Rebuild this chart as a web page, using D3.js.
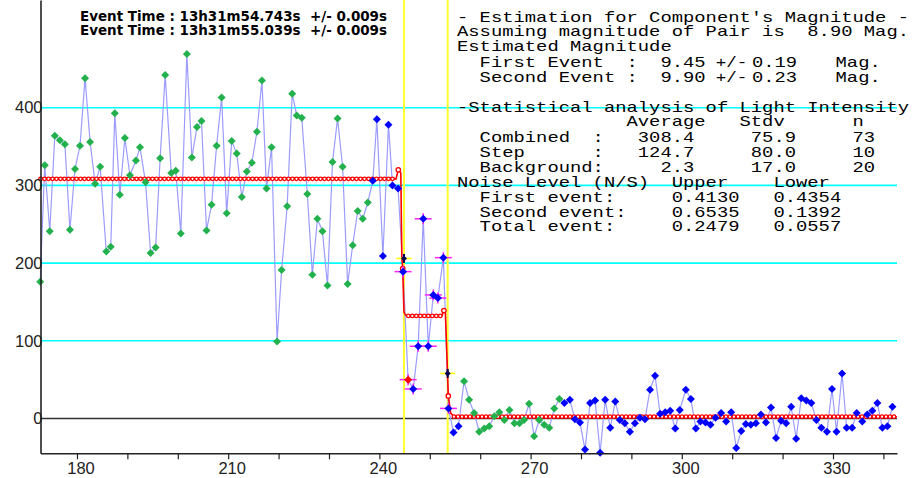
<!DOCTYPE html>
<html>
<head>
<meta charset="utf-8">
<script src="https://cdn.jsdelivr.net/npm/d3@7/dist/d3.min.js"></script>
<style>
  html, body { margin: 0; padding: 0; background: #fff; }
  svg { display: block; }
  text { white-space: pre; }
</style>
</head>
<body>
<svg id="chart" width="912" height="478"></svg>
<script>
// ---- Light curve samples: frame time (s) and measured light intensity ----
const frameTime = [
  172.7,173.6,174.6,175.6,176.6,177.6,178.6,179.6,180.6,181.6,
  182.6,183.6,184.6,185.8,186.7,187.5,188.5,189.5,190.5,191.7,
  192.5,193.6,194.6,195.6,196.5,197.5,198.7,199.6,200.6,201.8,
  202.8,203.8,204.7,205.7,206.7,207.7,208.7,209.7,210.7,211.7,
  212.7,213.7,214.7,215.7,216.7,217.6,218.6,219.7,220.6,221.7,
  222.7,223.6,224.6,225.7,226.7,227.7,228.7,229.7,230.7,231.7,
  232.7,233.7,234.7,235.7,236.7,237.7,238.7,239.5,240.7,241.8,
  242.6,243.7,
  244.7,245.7,246.7,247.7,248.7,249.7,250.7,251.6,252.7,253.7,
  254.7,255.7,
  256.8,257.8,258.8,259.8,260.8,261.8,262.8,263.8,264.8,265.8,
  266.8,267.8,268.7,269.7,270.7,271.7,272.7,273.7,274.7,275.7,
  276.7,277.8,278.8,279.8,280.8,281.8,282.8,283.8,284.8,285.8,
  286.8,287.7,288.7,289.7,290.7,291.7,292.7,293.7,294.7,295.7,
  296.7,297.7,298.7,299.6,300.8,301.8,302.8,303.7,304.7,305.7,
  306.7,307.8,308.8,309.8,310.8,311.8,312.7,313.7,314.7,315.7,
  316.7,317.7,318.7,319.7,320.7,321.7,322.7,323.7,324.7,325.7,
  326.7,327.7,328.8,329.8,330.7,331.8,332.7,333.8,334.7,335.8,
  336.8,337.8,338.8,339.8,340.8,341.8
];
const intensity = [
  176,326,241,364,358,353,243,321,351,438,
  356,302,324,215,221,393,288,361,313,332,
  349,304,213,220,335,442,316,319,238,469,
  336,375,383,242,275,351,413,264,357,341,
  285,318,329,369,435,296,349,99,191,273,
  418,390,387,289,185,257,241,171,330,386,
  324,173,223,267,257,278,306,385,209,378,
  300,296,
  189,50,38,93,257,93,159,155,207,13,
  -18,-10,
  48,24,7,-17,-13,-10,3,8,-2,11,
  -6,-6,-2,19,-23,-2,-8,-12,13,25,
  20,24,-1,-5,-40,20,23,-44,24,-12,
  22,-2,-6,-17,-6,1,-1,37,55,6,
  8,10,-13,11,37,25,-13,-4,-5,-8,
  1,7,-4,8,-38,-16,-7,-8,-6,5,
  -5,14,-25,-3,-6,15,-26,26,23,20,
  -2,-12,-17,38,-17,58,-12,-12,7,-4,
  5,10,20,-12,-10,15
];
// Sample classes in time order: G = used for level, B = not used, S = step sample, R = flagged step sample
const sampleKindRuns = [["G",66],["B",6],["S",1],["R",1],["S",8],["B",2],["G",20],["B",66]];

// ---- Fitted occultation model (knots) ----
const modelTime  = [172.76, 243.3, 243.75, 244.25, 244.45, 244.62, 244.88, 245.2, 245.74, 252.4, 252.8, 253.1, 253.67, 254.15, 254.8, 342.7];
const modelLevel = [308.4, 308.4, 320, 316, 208, 193, 137, 133, 132, 132, 139, 136, 29, 7, 2.3, 2.3];
const modelRingKnots = [2, 5, 10, 12];

// ---- Events ----
const eventTime  = [244.88, 253.55];
const eventLevel = [206, 58];
const eventClock = ["13h31m54.743s", "13h31m55.039s"];
const eventClockErr = "0.009s";

// ---- Axes ----
const xDomain = [172.76, 342.7];
const yDomain = [-44.8, 538.6];
const xMinorTicks = [180,190,200,210,220,230,240,250,260,270,280,290,300,310,320,330,340];
const xTickLabels = [180,210,240,270,300,330];
const yTickLabels = [0,100,200,300,400];
const yGrid = [100,200,300,400];

// ---- Magnitude estimation and statistics ----
const pairMagnitude = "8.90";
const eventNames = ["First Event", "Second Event"];
const eventMag = ["9.45", "9.90"];
const eventMagErr = ["0.19", "0.23"];
const statRows = ["Combined", "Step", "Background"];
const statAverage = [308.4, 124.7, 2.3];
const statStdv = [75.9, 80.0, 17.0];
const statN = [73, 10, 20];
const noiseRows = ["First event:", "Second event:", "Total event:"];
const noiseUpper = [0.4130, 0.6535, 0.2479];
const noiseLower = [0.4354, 0.1392, 0.0557];

// ---------------------------------------------------------------
const svg = d3.select("#chart");
const W = 912, H = 478;
const plot = { left: 40.5, right: 897, top: 0, bottom: 453.3 };

const x = d3.scaleLinear().domain(xDomain).range([plot.left, plot.right]);
const y = d3.scaleLinear().domain(yDomain).range([plot.bottom, plot.top]);

const sampleKind = sampleKindRuns.flatMap(([k, n]) => Array.from({ length: n }, () => k));
const samples = frameTime.map((t, i) => ({ t, v: intensity[i], kind: sampleKind[i] }));

svg.append("rect").attr("width", W).attr("height", H).attr("fill", "#fff");

// grid lines
svg.append("g").selectAll("line").data(yGrid).join("line")
  .attr("x1", plot.left).attr("x2", plot.right)
  .attr("y1", d => y(d)).attr("y2", d => y(d))
  .attr("stroke", "#00ffff").attr("stroke-width", 1.6);

// zero line
svg.append("line")
  .attr("x1", plot.left).attr("x2", plot.right)
  .attr("y1", y(0)).attr("y2", y(0))
  .attr("stroke", "#333").attr("stroke-width", 1.5);

// event time markers
svg.append("g").selectAll("line").data(eventTime).join("line")
  .attr("x1", d => x(d)).attr("x2", d => x(d))
  .attr("y1", plot.top).attr("y2", plot.bottom)
  .attr("stroke", "#ffff30").attr("stroke-width", 2);

// measured light curve
svg.append("path")
  .datum(samples)
  .attr("d", d3.line().x(d => x(d.t)).y(d => y(d.v)))
  .attr("fill", "none").attr("stroke", "#9c9cff").attr("stroke-width", 1.2);

// model curve
const modelPts = modelTime.map((t, i) => ({ t, v: modelLevel[i] }));
svg.append("path")
  .datum(modelPts)
  .attr("d", d3.line().x(d => x(d.t)).y(d => y(d.v)))
  .attr("fill", "none").attr("stroke", "#ff0000").attr("stroke-width", 1.6);

// chain of rings along the flat model levels
const flats = [];
for (let i = 0; i < modelPts.length - 1; i++) {
  if (modelPts[i].v === modelPts[i + 1].v) flats.push([modelPts[i], modelPts[i + 1]]);
}
const flatLine = d => `M${x(d[0].t)},${y(d[0].v)}H${x(d[1].t)}`;
const rings = svg.append("g");
rings.selectAll("path.outer").data(flats).join("path").attr("class", "outer")
  .attr("d", flatLine).attr("fill", "none")
  .attr("stroke", "#ff0000").attr("stroke-width", 4.8)
  .attr("stroke-linecap", "round").attr("stroke-dasharray", "0 4");
rings.selectAll("path.inner").data(flats).join("path").attr("class", "inner")
  .attr("d", flatLine).attr("fill", "none")
  .attr("stroke", "#fff").attr("stroke-width", 2.2)
  .attr("stroke-linecap", "round").attr("stroke-dasharray", "0 4");
svg.append("g").selectAll("circle").data(modelRingKnots.map(i => modelPts[i])).join("circle")
  .attr("cx", d => x(d.t)).attr("cy", d => y(d.v)).attr("r", 2.2)
  .attr("fill", "#fff").attr("stroke", "#ff0000").attr("stroke-width", 1.3);

// error crosses on step samples
const stepSamples = samples.filter(d => d.kind === "S" || d.kind === "R");
const cross = svg.append("g").attr("stroke", "#ff22ff").attr("stroke-width", 1.5);
cross.selectAll("line.h").data(stepSamples).join("line").attr("class", "h")
  .attr("x1", d => x(d.t) - 8.5).attr("x2", d => x(d.t) + 8.5)
  .attr("y1", d => y(d.v)).attr("y2", d => y(d.v));
cross.selectAll("line.v").data(stepSamples).join("line").attr("class", "v")
  .attr("x1", d => x(d.t)).attr("x2", d => x(d.t))
  .attr("y1", d => y(d.v) - 5.5).attr("y2", d => y(d.v) + 5.5);

// sample diamonds
const kindColor = { G: "#22b14c", B: "#0000ff", S: "#0000ff", R: "#ff0000" };
const diamond = (cx, cy, r) => `M${cx},${cy - r}L${cx + r},${cy}L${cx},${cy + r}L${cx - r},${cy}Z`;
svg.append("g").selectAll("path").data(samples).join("path")
  .attr("d", d => diamond(x(d.t), y(d.v), 4))
  .attr("fill", d => kindColor[d.kind]);

// event level markers
const ev = svg.append("g").selectAll("g").data(eventTime.map((t, i) => ({ t, v: eventLevel[i] }))).join("g");
ev.append("line")
  .attr("x1", d => x(d.t) - 7.5).attr("x2", d => x(d.t) + 7.5)
  .attr("y1", d => y(d.v)).attr("y2", d => y(d.v))
  .attr("stroke", "#ffff00").attr("stroke-width", 1.6);
ev.append("line")
  .attr("x1", d => x(d.t)).attr("x2", d => x(d.t))
  .attr("y1", d => y(d.v) - 4.5).attr("y2", d => y(d.v) + 4.5)
  .attr("stroke", "#000050").attr("stroke-width", 2);
ev.append("path")
  .attr("d", d => diamond(x(d.t), y(d.v), 3))
  .attr("fill", "#000050");

// axes
const axisFont = "'Liberation Sans', Arial, sans-serif";
const xAxis = d3.axisBottom(x)
  .tickValues(xMinorTicks)
  .tickSize(6).tickSizeOuter(0)
  .tickFormat(d => xTickLabels.includes(d) ? String(d) : "");
const gx = svg.append("g").attr("transform", `translate(0,${plot.bottom})`).call(xAxis);
gx.select(".domain").attr("stroke", "#222").attr("stroke-width", 1.6);
gx.selectAll(".tick line").attr("stroke", "#222").attr("stroke-width", 1.2);
gx.selectAll(".tick text")
  .attr("y", 9.4).attr("dx", 3.5)
  .attr("fill", "#222").style("font", `16.5px ${axisFont}`);

const yAxis = d3.axisLeft(y).tickValues(yTickLabels).tickSize(0).tickSizeOuter(0).tickPadding(-2);
const gy = svg.append("g").attr("transform", `translate(${plot.left},0)`).call(yAxis);
gy.select(".domain").attr("stroke", "#222").attr("stroke-width", 1.6);
gy.selectAll(".tick text").attr("fill", "#222").style("font", `16.5px ${axisFont}`);

// event time header
const header = svg.append("g")
  .style("font", "bold 14px 'DejaVu Sans', sans-serif").attr("fill", "#000");
eventClock.forEach((c, i) => {
  header.append("text")
    .attr("x", 80).attr("y", 20.5 + i * 14.2)
    .attr("textLength", 307).attr("lengthAdjust", "spacingAndGlyphs")
    .text(`Event Time : ${c}  +/- ${eventClockErr}`);
});

// report block in fixed-width cells
const x0 = 457, cw = 11.3;
const report = svg.append("g")
  .style("font", "15px 'Liberation Mono', 'Courier New', monospace").attr("fill", "#000");
function cell(col, baseline, str, cells) {
  report.append("text")
    .attr("x", x0 + col * cw).attr("y", baseline)
    .attr("textLength", (cells || str.length) * cw).attr("lengthAdjust", "spacingAndGlyphs")
    .text(str);
}
function cellEnd(endCol, baseline, str) { cell(endCol - str.length, baseline, str); }

cell(0, 21.7, "- Estimation for Component's Magnitude -");
cell(0, 36, `Assuming magnitude of Pair is  ${pairMagnitude} Mag.`);
cell(0, 50.5, "Estimated Magnitude");
eventNames.forEach((name, i) => {
  const yb = 66.5 + i * 15;
  cell(2, yb, name.padEnd(13, " ") + ":");
  cell(18, yb, eventMag[i]);
  cell(22.9, yb, "+/-", 2.8);
  cell(26.1, yb, eventMagErr[i]);
  cell(33.5, yb, "Mag.");
});

cell(0, 111.7, "-Statistical analysis of Light Intensity");
cell(15, 126, "Average");
cell(25, 126, "Stdv");
cell(35, 126, "n");
statRows.forEach((name, i) => {
  const yb = 141.5 + i * 15;
  cell(2, yb, name.padEnd(10, " ") + ":");
  cellEnd(21, yb, statAverage[i].toFixed(1));
  cellEnd(30, yb, statStdv[i].toFixed(1));
  cellEnd(37, yb, String(statN[i]));
});
cell(0, 187, "Noise Level (N/S)");
cell(19, 187, "Upper");
cell(28, 187, "Lower");
noiseRows.forEach((name, i) => {
  const yb = 201.7 + i * 14.8;
  cell(2, yb, name);
  cell(19, yb, noiseUpper[i].toFixed(4));
  cell(28, yb, noiseLower[i].toFixed(4));
});
</script>
</body>
</html>
